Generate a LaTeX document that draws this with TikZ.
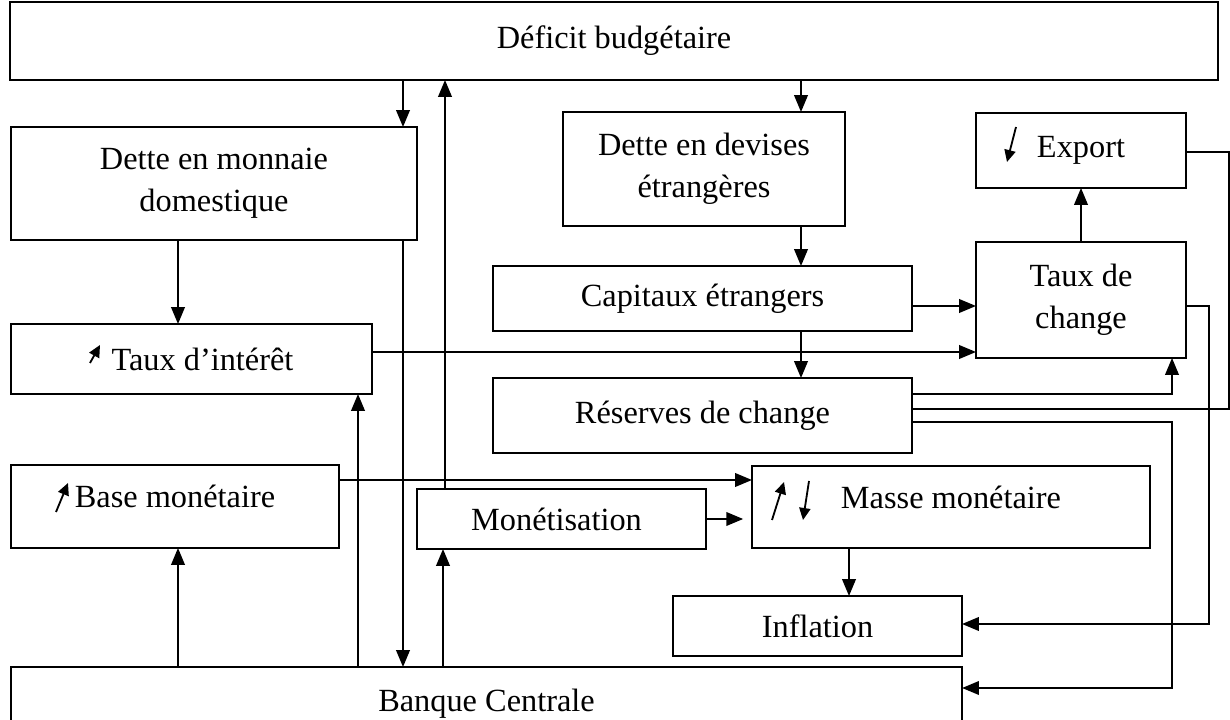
\documentclass[tikz,border=0pt]{standalone}
\usepackage{fontspec}
\setmainfont{Liberation Serif}
\usetikzlibrary{arrows.meta, positioning}

\begin{document}
\begin{tikzpicture}[
    x=0.025cm, y=-0.025cm,
    box/.style={draw, line width=1.2pt, inner sep=0pt, outer sep=0pt, align=center, font=\fontsize{23}{30}\selectfont},
    flow/.style={-{Triangle[length=0.42cm, width=0.34cm]}, line width=1.2pt},
    link/.style={line width=1.2pt},
    tick/.style={-{Triangle[length=0.3cm, width=0.28cm]}, line width=1.3pt}
]
    \useasboundingbox (0,0) rectangle (1230,720);

    % Boxes
    \node[box, minimum width=30.2cm, minimum height=1.95cm] (deficit) at (614,41) {Déficit budgétaire};
    \node[box, minimum width=10.15cm, minimum height=2.825cm] (detteDom) at (214,183.5) {Dette en monnaie\\domestique};
    \node[box, minimum width=7.05cm, minimum height=2.85cm] (detteDev) at (704,169) {Dette en devises\\étrangères};
    \node[box, minimum width=5.25cm, minimum height=1.875cm] (export) at (1081,150.5) {Export};
    \node[box, minimum width=5.25cm, minimum height=2.9cm] (change) at (1081,300) {Taux de\\change};
    \node[box, minimum width=10.475cm, minimum height=1.625cm] (capitaux) at (702.5,298.5) {Capitaux étrangers};
    \node[box, minimum width=9.025cm, minimum height=1.75cm] (interet) at (191.5,359) {\hspace*{0.55cm}Taux d’intérêt};
    \node[box, minimum width=10.475cm, minimum height=1.875cm] (reserves) at (702.5,415.5) {Réserves de change};
    \node[box, minimum width=8.2cm, minimum height=2.075cm, text depth=0.5cm] (base) at (175,506.5) {Base monétaire};
    \node[box, minimum width=7.225cm, minimum height=1.5cm] (monet) at (561.5,519) {\hspace*{-0.25cm}Monétisation};
    \node[box, minimum width=9.95cm, minimum height=2.05cm, text depth=0.5cm] (masse) at (951,507) {Masse monétaire};
    \node[box, minimum width=7.225cm, minimum height=1.5cm] (inflation) at (817.5,626) {Inflation};
    \node[box, minimum width=23.775cm, minimum height=1.825cm] (banque) at (486.5,703.5) {Banque Centrale};

    % Up / down marks
    \draw[tick] (90,363) -- (100,345);
    \draw[tick] (56,512) -- (68,483);
    \draw[tick] (1016,127) -- (1007,162);
    \draw[tick] (772,520) -- (784,482);
    \draw[tick] (809,481) -- (803,520);

    % Top part
    \draw[flow] (403,0 |- deficit.south) -- (403,0 |- detteDom.north);
    \draw[flow] (801,0 |- deficit.south) -- (801,0 |- detteDev.north);
    \draw[flow] (445,0 |- monet.north) -- (445,0 |- deficit.south);
    \draw[flow] (801,0 |- detteDev.south) -- (801,0 |- capitaux.north);
    \draw[flow] (178,0 |- detteDom.south) -- (178,0 |- interet.north);
    \draw[flow] (403,0 |- detteDom.south) -- (403,0 |- banque.north);
    \draw[flow] (capitaux.east |- 0,306) -- (change.west |- 0,306);
    \draw[flow] (interet.east |- 0,352) -- (change.west |- 0,352);
    \draw[flow] (801,0 |- capitaux.south) -- (801,0 |- reserves.north);
    \draw[flow] (change.north) -- (export.south);

    % Right side loops
    \draw[link] (export.east |- 0,152) -| (1229,409) -- (reserves.east |- 0,409);
    \draw[flow] (reserves.east |- 0,394) -| (1172,0 |- change.south);
    \draw[flow] (reserves.east |- 0,422) -| (1172,688) -- (banque.east |- 0,688);
    \draw[flow] (change.east |- 0,306) -| (1209,624) -- (inflation.east |- 0,624);

    % Bottom part
    \draw[flow] (358,0 |- banque.north) -- (358,0 |- interet.south);
    \draw[flow] (178,0 |- banque.north) -- (178,0 |- base.south);
    \draw[flow] (443,0 |- banque.north) -- (443,0 |- monet.south);
    \draw[flow] (base.east |- 0,480) -- (masse.west |- 0,480);
    \draw[flow, shorten >=0.22cm] (monet.east) -- (masse.west |- monet.east);
    \draw[flow] (849,0 |- masse.south) -- (849,0 |- inflation.north);
\end{tikzpicture}
\end{document}
